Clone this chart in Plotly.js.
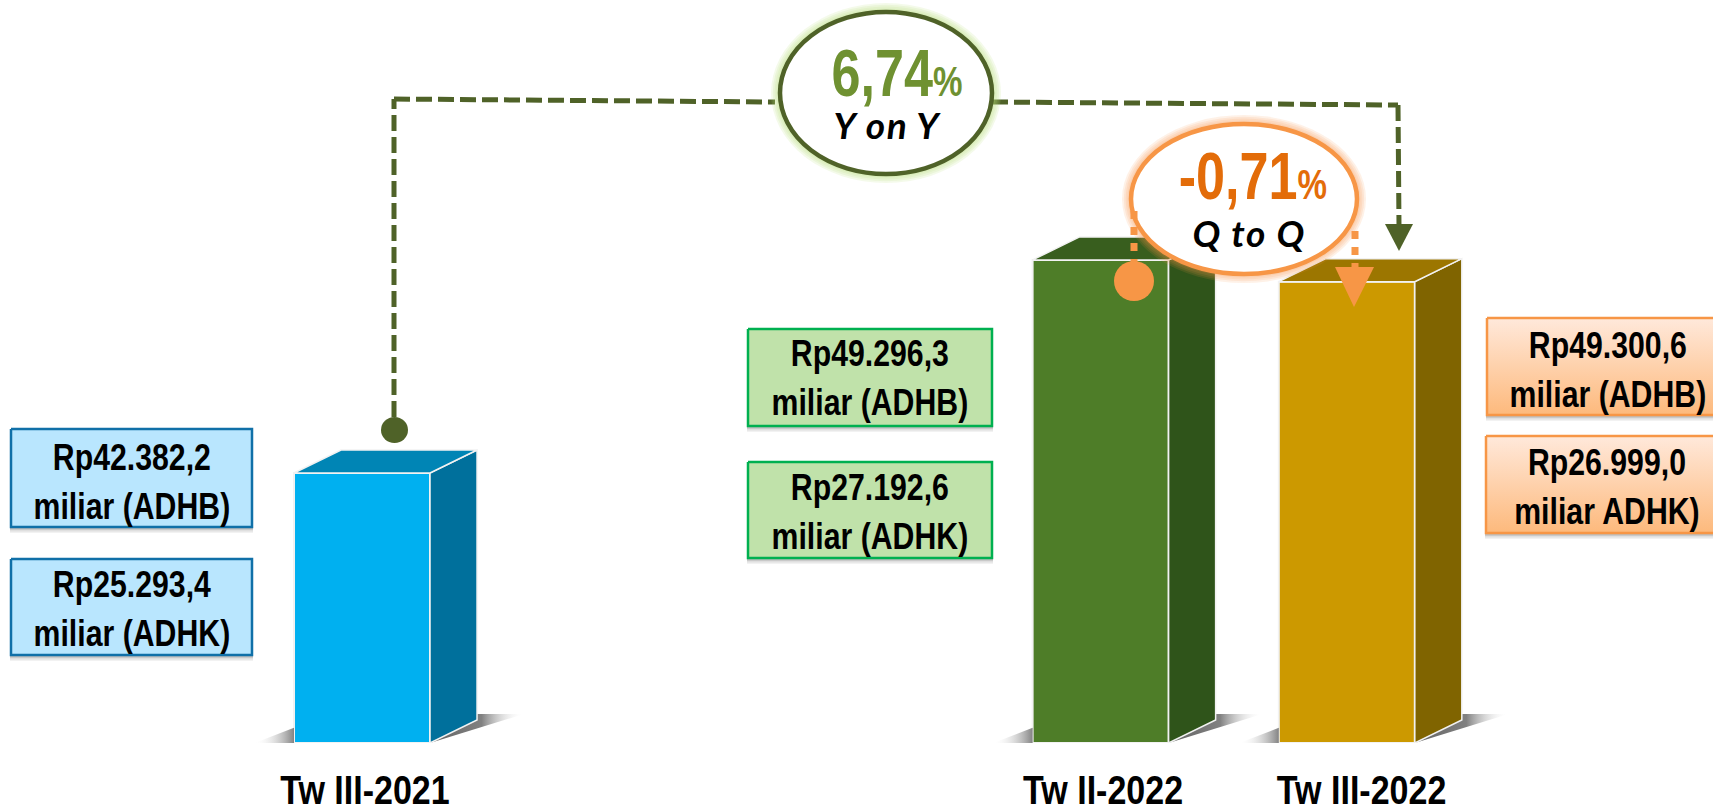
<!DOCTYPE html>
<html>
<head>
<meta charset="utf-8">
<script src="https://cdn.plot.ly/plotly-3.0.1.min.js"></script>
<style>html,body{margin:0;padding:0;background:#fff;overflow:hidden}#chart{width:1713px;height:807px}</style>
</head>
<body>
<div id="chart"></div>
<script>
// ---- data ----
const quarters   = ["Tw III-2021", "Tw II-2022", "Tw III-2022"];
const quarterPos = [0, 3, 4];            // quarters elapsed since Tw III-2021
const tickPos    = [0.012, 3.01, 4.06];
const adhk       = [25293.4, 27192.6, 26999.0];   // bar heights follow ADHK
const adhbLabels = ["Rp42.382,2<br>miliar (ADHB)", "Rp49.296,3<br>miliar (ADHB)", "Rp49.300,6<br>miliar (ADHB)"];
const adhkLabels = ["Rp25.293,4<br>miliar (ADHK)", "Rp27.192,6<br>miliar (ADHK)", "Rp26.999,0<br>miliar ADHK)"];
const frontColors = ["#00b0f0", "#4e7d28", "#cc9900"];
const sideColors  = ["#00709c", "#2f541a", "#806400"];
const topColors   = ["#0085b5", "#385e1e", "#9c7600"];
const yoyText = "6,74", yoyLabel = "Y on Y";
const qoqText = "-0,71", qoqLabel = "Q to Q";

// ---- layout constants ----
const W = 1713, H = 807, BASE_PX = 743;
const SANS = '"Liberation Sans",Arial,sans-serif';
const ITALIC = 'Lato,"Open Sans",sans-serif';
const axisBase = 22886, axisTop = 29510;
const xMin = -1.4704, xMax = 5.4874;
const barWidth = 0.5524, depthX = 0.191, depthY = 205;
const GREEN = "#4f6228", ORANGE = "#f79646";

const traces = [];
// floor shadows
quarterPos.forEach((q) => {
  const l = q - barWidth / 2, r = q + barWidth / 2;
  traces.push({
    type: "scatter", mode: "lines", x: [l - 0.09, r + 0.04], y: [axisBase - 16, axisBase - 16],
    line: {color: "rgba(205,205,205,0.55)", width: 2.5}, hoverinfo: "skip", showlegend: false, cliponaxis: false
  });
  traces.push({
    type: "scatter", mode: "lines", x: [r, r + depthX + 0.19, r + depthX - 0.05, r],
    y: [axisBase, axisBase + 258, axisBase + 258, axisBase],
    fill: "toself", line: {width: 0}, hoverinfo: "skip", showlegend: false, cliponaxis: false,
    fillgradient: {type: "horizontal", colorscale: [[0, "rgba(90,90,90,0.95)"], [0.55, "rgba(115,115,115,0.9)"], [1, "rgba(255,255,255,0)"]]}
  });
  traces.push({
    type: "scatter", mode: "lines", x: [l - 0.16, l, l],
    y: [axisBase, axisBase + 135, axisBase],
    fill: "toself", line: {width: 0}, hoverinfo: "skip", showlegend: false, cliponaxis: false,
    fillgradient: {type: "horizontal", colorscale: [[0, "rgba(255,255,255,0)"], [1, "rgba(125,125,125,0.95)"]]}
  });
});
// bar fronts
traces.push({
  type: "bar", x: quarterPos, y: adhk.map(v => v - axisBase), base: axisBase, width: barWidth,
  marker: {color: frontColors, line: {color: "#f2f2f2", width: 2}},
  hoverinfo: "skip", showlegend: false, cliponaxis: false
});
// bar depth faces derived from the same values
quarterPos.forEach((q, i) => {
  const l = q - barWidth / 2, r = q + barWidth / 2, v = adhk[i];
  traces.push({
    type: "scatter", mode: "lines", x: [r, r + depthX, r + depthX, r, r],
    y: [axisBase, axisBase + depthY, v + depthY, v, axisBase],
    fill: "toself", fillcolor: sideColors[i], line: {color: "#f2f2f2", width: 1.5},
    hoverinfo: "skip", showlegend: false, cliponaxis: false
  });
  traces.push({
    type: "scatter", mode: "lines", x: [l, l + depthX, r + depthX, r, l],
    y: [v, v + depthY, v + depthY, v, v],
    fill: "toself", fillcolor: topColors[i], line: {color: "#f2f2f2", width: 1.5},
    hoverinfo: "skip", showlegend: false, cliponaxis: false
  });
});

// value boxes (pixel overlay axes)
const boxes = [
  {x0: 11,   y0: 429, x1: 252,  y1: 527, dy: 3, text: adhbLabels[0], fill: "#b9e6fe", line: "#1070a8"},
  {x0: 11,   y0: 559, x1: 252,  y1: 655, dy: 1, text: adhkLabels[0], fill: "#b9e6fe", line: "#1070a8"},
  {x0: 748,  y0: 329, x1: 992,  y1: 426, dy: 0, text: adhbLabels[1], fill: "#c0e2aa", line: "#00b050"},
  {x0: 748,  y0: 462, x1: 992,  y1: 558, dy: 1, text: adhkLabels[1], fill: "#c0e2aa", line: "#00b050"},
  {x0: 1487, y0: 318, x1: 1728, y1: 415, dy: 3, text: adhbLabels[2], grad: true, line: ORANGE},
  {x0: 1486, y0: 436, x1: 1728, y1: 533, dy: 2, text: adhkLabels[2], grad: true, line: ORANGE}
];
const shapes = [], annotations = [];
const ref = {xref: "x2", yref: "y2"};

boxes.forEach(b => {
  [[6, .08], [4.5, .12], [3, .16], [1.5, .2]].forEach(([o, a]) => shapes.push({
    type: "rect", ...ref, layer: "below", x0: b.x0 - 1, x1: b.x1 + 1, y0: b.y0 + 4, y1: b.y1 + o,
    line: {width: 0}, fillcolor: `rgba(90,90,90,${a})`
  }));
  const t = {
    type: "scatter", mode: "lines", xaxis: "x2", yaxis: "y2",
    x: [b.x0, b.x1, b.x1, b.x0, b.x0], y: [b.y0, b.y0, b.y1, b.y1, b.y0],
    fill: "toself", line: {color: b.line, width: 2.5}, hoverinfo: "skip", showlegend: false
  };
  if (b.grad) t.fillgradient = {type: "vertical", colorscale: [[0, "#fdb97c"], [1, "#ffe9db"]]};
  else t.fillcolor = b.fill;
  traces.push(t);
  annotations.push({
    ...ref, x: (b.x0 + b.x1) / 2, y: (b.y0 + b.y1) / 2 + b.dy, text: b.text, showarrow: false,
    align: "center", font: {family: SANS, size: 37.5, color: "#000", weight: 700}
  });
});

// connectors
const dash = "16px,6px";
const seg = (x0, y0, x1, y1, color, width, d) => shapes.push({
  type: "line", ...ref, layer: "above", x0, y0, x1, y1, line: {color, width, dash: d}
});
seg(394, 417, 394, 99, GREEN, 5, dash);
seg(394, 99, 775, 102, GREEN, 5, dash);
seg(992, 102, 1398, 105, GREEN, 5, dash);
seg(1398, 105, 1399, 226, GREEN, 5, dash);
shapes.push({type: "circle", ...ref, layer: "above", x0: 381, x1: 408, y0: 417, y1: 443, fillcolor: GREEN, line: {width: 0}});
shapes.push({type: "path", ...ref, layer: "above", path: "M1385 224 L1413 224 L1399 251 Z", fillcolor: GREEN, line: {width: 0}});

// callouts
const ellipse = (cx, cy, rx, ry, stroke, glow, lw) => {
  for (let i = 5; i >= 1; i--) shapes.push({
    type: "circle", ...ref, layer: "above", x0: cx - rx - i * 1.8, x1: cx + rx + i * 1.8, y0: cy - ry - i * 1.8, y1: cy + ry + i * 1.8,
    fillcolor: glow, line: {width: 0}
  });
  shapes.push({type: "circle", ...ref, layer: "above", x0: cx - rx, x1: cx + rx, y0: cy - ry, y1: cy + ry, fillcolor: "#fff", line: {color: stroke, width: lw}});
};
ellipse(886, 93, 106, 81, GREEN, "rgba(185,225,125,0.16)", 4.5);
ellipse(1244, 199, 113, 75, ORANGE, "rgba(247,150,70,0.13)", 4.5);

// orange dotted markers
seg(1134, 211, 1134, 262, ORANGE, 7, "8px,8px");
shapes.push({type: "circle", ...ref, layer: "above", x0: 1114, x1: 1154, y0: 261, y1: 301, fillcolor: ORANGE, line: {width: 0}});
seg(1355, 231, 1355, 268, ORANGE, 7, "8px,8px");
shapes.push({type: "path", ...ref, layer: "above", path: "M1335 267 L1374 267 L1354 307 Z", fillcolor: ORANGE, line: {width: 0}});

const pct = (s, color, x, y) => annotations.push({
  ...ref, x, y, showarrow: false, font: {family: SANS, size: 66, color, weight: 700},
  text: s + '<span style="font-size:42px">%</span>'
});
pct(yoyText, "#6f9131", 897, 73);
pct(qoqText, "#e36c09", 1253, 176);
const sub = (s, x, y) => annotations.push({
  ...ref, x, y, showarrow: false, text: "<b><i>" + s + "</i></b>",
  font: {family: ITALIC, size: 37, color: "#000"}
});
sub(yoyLabel, 888, 124);
sub(qoqLabel, 1249, 232);

const layout = {
  width: W, height: H, margin: {l: 0, r: 0, t: 0, b: H - BASE_PX, pad: 0},
  paper_bgcolor: "#fff", plot_bgcolor: "rgba(0,0,0,0)", showlegend: false, bargap: 0,
  xaxis: {
    type: "linear", range: [xMin, xMax], tickmode: "array", tickvals: tickPos, ticktext: quarters,
    ticks: "outside", ticklen: 11, tickcolor: "rgba(0,0,0,0)", showgrid: false, zeroline: false, showline: false,
    tickangle: 0, tickfont: {family: SANS, size: 41, color: "#000", weight: 700}, fixedrange: true
  },
  yaxis: {range: [axisBase, axisTop], visible: false, showgrid: false, zeroline: false, fixedrange: true},
  xaxis2: {overlaying: "x", range: [0, W], visible: false, fixedrange: true},
  yaxis2: {overlaying: "y", range: [BASE_PX, 0], visible: false, fixedrange: true},
  shapes, annotations
};

// The reference's face is a narrow bold sans: condense real text horizontally about its centre.
function condense(el, s) {
  const b = el.getBBox(), cx = b.x + b.width / 2, t = el.getAttribute("transform") || "";
  el.setAttribute("transform", `${t} translate(${cx} 0) scale(${s} 1) translate(${-cx} 0)`);
}
Plotly.newPlot("chart", traces, layout, {displayModeBar: false, staticPlot: true}).then(gd => {
  gd.querySelectorAll(".xtick text").forEach(el => condense(el, 0.83));
  gd.querySelectorAll(".annotation-text").forEach(el => {
    const txt = el.textContent;
    if (txt === yoyLabel || txt === qoqLabel) { el.style.letterSpacing = "1.5px"; return; }
    condense(el, txt.indexOf("%") >= 0 ? 0.79 : 0.807);
  });
});
</script>
</body>
</html>
